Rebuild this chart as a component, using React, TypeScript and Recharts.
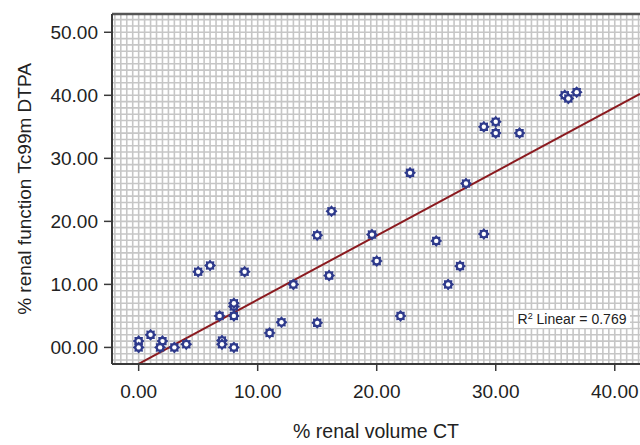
import React from 'react';
import { ScatterChart, Scatter, XAxis, YAxis, ReferenceLine } from 'recharts';

// % renal volume on CT vs % renal function (Tc99m DTPA)
const renalVolumeCT = [
    0, 0, 1, 2, 1.8, 3, 4, 5, 6, 6.8, 7, 7, 8, 8, 8, 8, 8.9, 11, 12, 13,
    15, 15, 16, 16.2, 19.6, 20, 22, 22.8, 25, 26, 27, 27.5, 29, 29, 30, 30, 32, 35.8, 36.1, 36.8,
];
const renalFunctionDTPA = [
    1, 0, 2, 1, 0, 0, 0.5, 12, 13, 5, 1.1, 0.5, 6.5, 7, 5, 0, 12, 2.3, 4, 10,
    3.9, 17.8, 11.4, 21.6, 17.9, 13.7, 5, 27.7, 16.9, 10, 12.9, 26, 18, 35, 35.8, 34, 34, 40, 39.5, 40.5,
];

// fitted line ends (x, y)
const fitX = [0, 42.12];
const fitY = [-2.6, 40.24];
const rSquared = '0.769';

const xTicks = [0, 10, 20, 30, 40];
const yTicks = [0, 10, 20, 30, 40, 50];
const xDomain = [-2.24, 42.12];
const yDomain = [-2.63, 52.9];

const points = renalVolumeCT.map((x, i) => ({ x, y: renalFunctionDTPA[i] }));
const fitSegment = fitX.map((x, i) => ({ x, y: fitY[i] }));

// fine background grid: every 0.5 on x, every 1 on y
const gridX: number[] = [];
for (let v = -2; v <= 42; v += 0.5) gridX.push(v);
const gridY: number[] = [];
for (let v = -2; v <= 52; v += 1) gridY.push(v);

const FONT = '"Liberation Sans", Arial, sans-serif';
const MARKER = '#2e3a8c';
const GRID = '#c6c6c6';

function GearDot(props: any) {
    const { cx, cy } = props;
    if (cx == null || cy == null) return null;
    const pts: string[] = [];
    for (let k = 0; k < 16; k++) {
        const r = k % 2 === 0 ? 6 : 4.4;
        const a = (Math.PI * k) / 8;
        pts.push(`${cx + r * Math.cos(a)},${cy + r * Math.sin(a)}`);
    }
    return (
        <g>
            <polygon points={pts.join(' ')} fill={MARKER} />
            <circle cx={cx} cy={cy} r={2.2} fill="#fff" />
        </g>
    );
}

export default function App() {
    const tickStyle = { fontFamily: FONT, fontSize: 19, fill: '#222' };
    return (
        <div style={{ position: 'absolute', left: 0, top: 0, width: 640, height: 445, background: '#fff' }}>
            <ScatterChart width={640} height={445} margin={{ top: 14, right: 0, bottom: 0, left: 0 }}>
                <XAxis
                    type="number"
                    dataKey="x"
                    domain={xDomain}
                    ticks={xTicks}
                    allowDataOverflow
                    height={81}
                    tickSize={7}
                    tickMargin={14}
                    tick={tickStyle}
                    tickFormatter={(v: number) => v.toFixed(2)}
                    axisLine={{ stroke: '#3a3a3a', strokeWidth: 2 }}
                    tickLine={{ stroke: '#3a3a3a', strokeWidth: 1.5 }}
                    label={{ value: '% renal volume CT', position: 'insideBottom', offset: 7, style: { fontFamily: FONT, fontSize: 19.5, fill: '#222' } }}
                />
                <YAxis
                    type="number"
                    dataKey="y"
                    domain={yDomain}
                    ticks={yTicks}
                    allowDataOverflow
                    width={112}
                    tickSize={8}
                    tickMargin={6}
                    tick={tickStyle}
                    tickFormatter={(v: number) => (v < 10 ? '0' : '') + v.toFixed(2)}
                    axisLine={{ stroke: '#3a3a3a', strokeWidth: 2 }}
                    tickLine={{ stroke: '#3a3a3a', strokeWidth: 1.5 }}
                    label={{ value: '% renal function Tc99m DTPA', angle: -90, position: 'insideLeft', offset: 24, style: { fontFamily: FONT, fontSize: 19, fill: '#222', textAnchor: 'middle' } }}
                />
                {gridX.map((v) => (
                    <ReferenceLine key={'gx' + v} x={v} stroke={GRID} strokeWidth={1.6} ifOverflow="hidden" />
                ))}
                {gridY.map((v) => (
                    <ReferenceLine key={'gy' + v} y={v} stroke={GRID} strokeWidth={1.6} ifOverflow="hidden" />
                ))}
                <ReferenceLine y={yDomain[1]} stroke="#555" strokeWidth={2.5} />
                <ReferenceLine segment={fitSegment} stroke="#8b1a1f" strokeWidth={2} />
                <Scatter data={points} shape={GearDot} isAnimationActive={false} />
            </ScatterChart>
            <div
                style={{
                    position: 'absolute', left: 514, top: 310, width: 116, height: 18,
                    background: '#fff', fontFamily: FONT, fontSize: 14, lineHeight: '18px',
                    color: '#222', textAlign: 'center', whiteSpace: 'nowrap',
                }}
            >
                R<sup style={{ fontSize: 9, lineHeight: 0, verticalAlign: '0.55em' }}>2</sup> Linear = {rSquared}
            </div>
        </div>
    );
}
